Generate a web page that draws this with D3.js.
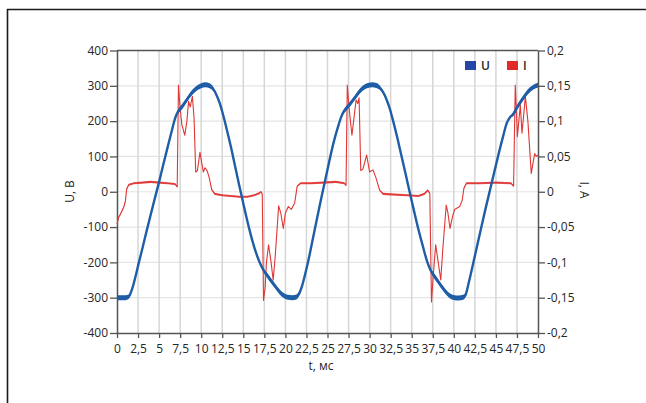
<!DOCTYPE html>
<html>
<head>
<meta charset="utf-8">
<script src="https://cdn.jsdelivr.net/npm/d3@7"></script>
<style>
  body { margin: 0; background: #fff; }
  svg { display: block; }
  text { font-family: "Open Sans", sans-serif; }
</style>
</head>
<body>
<svg id="chart" width="646" height="403"></svg>
<script>
// Tick values for the three axes
const timeTicks = [0, 2.5, 5, 7.5, 10, 12.5, 15, 17.5, 20, 22.5, 25, 27.5, 30, 32.5, 35, 37.5, 40, 42.5, 45, 47.5, 50];
const voltTicks = [-400, -300, -200, -100, 0, 100, 200, 300, 400];
const ampTicks = [-0.2, -0.15, -0.1, -0.05, 0, 0.05, 0.1, 0.15, 0.2];

// Voltage U, V: sample times (ms), values and noise half-width of the trace
const uTime = [0, 0.5, 1.0, 1.4, 1.8, 2.2, 2.6, 3.0, 3.5, 4.0, 4.5, 5.0, 5.5, 6.0, 6.5, 6.9, 7.2, 7.6, 8.0, 8.5, 9.0, 9.5, 10.0, 10.5, 11.0, 11.4, 11.8, 12.2, 12.6, 13.0, 13.5, 14.0, 14.5, 15.0, 15.5, 16.0, 16.5, 17.0, 17.4, 17.8, 18.3, 18.8, 19.3, 19.8, 20.3, 20.8, 21.3, 21.7, 22.0, 22.4, 22.8, 23.2, 23.7, 24.2, 24.7, 25.2, 25.7, 26.2, 26.6, 26.9, 27.3, 27.8, 28.3, 28.8, 29.3, 29.8, 30.3, 30.8, 31.2, 31.6, 32.0, 32.4, 32.8, 33.3, 33.8, 34.3, 34.8, 35.3, 35.8, 36.3, 36.8, 37.2, 37.6, 38.1, 38.6, 39.1, 39.6, 40.1, 40.6, 41.1, 41.4, 41.8, 42.3, 42.8, 43.3, 43.8, 44.3, 44.8, 45.3, 45.8, 46.3, 46.7, 47.0, 47.5, 48.0, 48.5, 49.0, 49.5, 50.0];
const uVolt = [-300, -300, -300, -297, -275, -240, -200, -162, -113, -65, -18, 28, 77, 125, 172, 208, 225, 237, 250, 268, 283, 294, 300, 303, 300, 292, 275, 251, 218, 180, 130, 75, 20, -33, -85, -132, -172, -203, -222, -236, -252, -268, -283, -294, -299, -300, -298, -285, -265, -228, -187, -140, -82, -25, 30, 85, 137, 180, 210, 226, 238, 252, 268, 284, 295, 301, 303, 301, 295, 282, 262, 235, 200, 152, 100, 48, -5, -57, -107, -152, -195, -220, -236, -253, -270, -285, -296, -300, -301, -299, -292, -255, -203, -150, -97, -45, 5, 55, 105, 152, 195, 212, 218, 238, 257, 274, 288, 297, 302];
const uNoise = [7, 7, 7, 6, 3, 1, 0, 0, 0, 0, 0, 0, 0, 0, 0, 1, 5, 7, 7, 7, 7, 7, 7, 7, 7, 6, 3, 1, 0, 0, 0, 0, 0, 0, 0, 0, 0, 1, 5, 7, 7, 7, 7, 7, 7, 7, 7, 6, 3, 1, 0, 0, 0, 0, 0, 0, 0, 0, 1, 5, 7, 7, 7, 7, 7, 7, 7, 7, 6, 3, 1, 0, 0, 0, 0, 0, 0, 0, 0, 0, 1, 5, 7, 7, 7, 7, 7, 7, 7, 7, 6, 3, 1, 0, 0, 0, 0, 0, 0, 0, 0, 1, 5, 7, 7, 7, 7, 7, 7];

// Current I, A: sample times (ms), values and noise half-width of the trace
const iTime = [0, 0.2, 0.4, 0.6, 0.8, 1.0, 1.15, 1.4, 2.0, 3.0, 4.0, 5.0, 6.0, 6.9, 7.15, 7.3, 7.45, 7.7, 8.05, 8.3, 8.5, 8.7, 8.95, 9.15, 9.35, 9.55, 9.85, 10.05, 10.25, 10.45, 10.7, 10.95, 11.25, 11.6, 12.5, 13.5, 14.5, 15.5, 16.3, 16.9, 17.1, 17.25, 17.4, 17.6, 17.75, 18.0, 18.3, 18.55, 18.8, 19.2, 19.45, 19.75, 20.0, 20.35, 20.7, 21.1, 21.4, 21.8, 23.0, 24.5, 26.0, 27.0, 27.2, 27.35, 27.55, 27.9, 28.15, 28.4, 28.6, 28.75, 28.95, 29.2, 29.65, 30.0, 30.4, 30.75, 31.2, 31.6, 33.0, 34.5, 35.8, 36.5, 36.9, 37.15, 37.35, 37.55, 37.85, 38.15, 38.45, 38.7, 39.1, 39.3, 39.55, 39.85, 40.1, 40.7, 41.0, 41.2, 41.5, 43.0, 45.0, 46.8, 47.1, 47.3, 47.45, 47.55, 47.9, 48.1, 48.5, 48.8, 49.2, 49.6, 49.8, 50.0];
const iAmp = [-0.046, -0.036, -0.032, -0.027, -0.022, -0.013, 0.004, 0.010, 0.012, 0.013, 0.014, 0.013, 0.012, 0.011, 0.007, 0.151, 0.125, 0.095, 0.080, 0.100, 0.128, 0.120, 0.135, 0.105, 0.028, 0.030, 0.056, 0.042, 0.028, 0.034, 0.030, 0.020, 0.003, -0.003, -0.005, -0.006, -0.007, -0.007, -0.005, -0.002, 0.000, -0.003, -0.154, -0.135, -0.100, -0.075, -0.100, -0.125, -0.090, -0.020, -0.030, -0.052, -0.030, -0.021, -0.025, -0.016, 0.008, 0.012, 0.012, 0.013, 0.014, 0.012, 0.009, 0.151, 0.120, 0.080, 0.105, 0.130, 0.125, 0.133, 0.030, 0.032, 0.052, 0.028, 0.031, 0.020, 0.002, -0.003, -0.004, -0.005, -0.006, -0.003, 0.002, -0.002, -0.156, -0.120, -0.075, -0.100, -0.125, -0.080, -0.019, -0.030, -0.052, -0.035, -0.025, -0.021, -0.012, 0.005, 0.012, 0.012, 0.013, 0.012, 0.008, 0.151, 0.110, 0.078, 0.123, 0.083, 0.135, 0.100, 0.026, 0.054, 0.050, 0.052];
const iNoise = [0.001, 0.001, 0.001, 0.001, 0.001, 0.001, 0.001, 0.0015, 0.0015, 0.0015, 0.0015, 0.0015, 0.0015, 0.0015, 0.001, 0, 0, 0, 0, 0, 0, 0, 0, 0, 0, 0, 0, 0, 0, 0, 0, 0, 0.001, 0.0015, 0.0015, 0.0015, 0.0015, 0.0015, 0.0015, 0.0015, 0.001, 0, 0, 0, 0, 0, 0, 0, 0, 0, 0, 0, 0, 0, 0, 0, 0.001, 0.0015, 0.0015, 0.0015, 0.0015, 0.0015, 0.001, 0, 0, 0, 0, 0, 0, 0, 0, 0, 0, 0, 0, 0, 0.001, 0.0015, 0.0015, 0.0015, 0.0015, 0.0015, 0.0015, 0.001, 0, 0, 0, 0, 0, 0, 0, 0, 0, 0, 0, 0, 0, 0.001, 0.0015, 0.0015, 0.0015, 0.0015, 0.001, 0, 0, 0, 0, 0, 0, 0, 0, 0, 0, 0];

const uData = uTime.map((t, k) => ({ t, v: uVolt[k], n: uNoise[k] }));
const iData = iTime.map((t, k) => ({ t, v: iAmp[k], n: iNoise[k] }));

const svg = d3.select("#chart");

// Outer frame (left and top rules)
svg.append("path")
  .attr("d", "M7.5,403 V9.5 H646")
  .attr("fill", "none")
  .attr("stroke", "#1a1a1a")
  .attr("stroke-width", 1.6);

const plotLeft = 117, plotRight = 538, plotTop = 50.5, plotBottom = 333;
const x = d3.scaleLinear().domain([0, 50]).range([plotLeft, plotRight]);
const yU = d3.scaleLinear().domain([-400, 400]).range([plotBottom, plotTop]);
const yI = d3.scaleLinear().domain([-0.2, 0.2]).range([plotBottom, plotTop]);

const loc = d3.formatLocale({ decimal: ",", thousands: " ", grouping: [3], currency: ["", ""], minus: "-" });
const fmtT = loc.format(".1~f");
const fmtU = loc.format("d");
const fmtI = loc.format(".2~f");

// Grid
const grid = svg.append("g");
grid.selectAll("line.h").data(voltTicks.slice(1, -1)).join("line")
  .attr("x1", plotLeft).attr("x2", plotRight)
  .attr("y1", d => yU(d)).attr("y2", d => yU(d))
  .attr("stroke", "#e4e4e4").attr("stroke-width", 1.2);
grid.selectAll("line.v").data(timeTicks.slice(1, -1)).join("line")
  .attr("x1", d => x(d)).attr("x2", d => x(d))
  .attr("y1", plotTop).attr("y2", plotBottom)
  .attr("stroke", "#d6d6d6").attr("stroke-width", 1.5);

// Top rule of the plot area
svg.append("line")
  .attr("x1", plotLeft).attr("x2", plotRight).attr("y1", plotTop).attr("y2", plotTop)
  .attr("stroke", "#555").attr("stroke-width", 1.5);

// Axes
function styleAxis(g) {
  g.select(".domain").attr("stroke", "#555").attr("stroke-width", 1.5);
  g.selectAll(".tick line").attr("stroke", "#555").attr("stroke-width", 1.3);
  g.selectAll(".tick text").attr("fill", "#262626").style("font-size", "12px")
    .style("font-family", "'Open Sans', sans-serif");
}
svg.append("g").attr("transform", `translate(0,${plotBottom})`)
  .call(d3.axisBottom(x).tickValues(timeTicks).tickFormat(fmtT).tickSize(5).tickPadding(6).tickSizeOuter(0))
  .call(styleAxis);
svg.append("g").attr("transform", `translate(${plotLeft},0)`)
  .call(d3.axisLeft(yU).tickValues(voltTicks).tickFormat(fmtU).tickSize(7).tickPadding(2).tickSizeOuter(0))
  .call(styleAxis);
svg.append("g").attr("transform", `translate(${plotRight},0)`)
  .call(d3.axisRight(yI).tickValues(ampTicks).tickFormat(fmtI).tickSize(7).tickPadding(2).tickSizeOuter(0))
  .call(styleAxis);

// Axis titles
svg.append("text").attr("transform", "translate(74,191.5) rotate(-90)")
  .attr("text-anchor", "middle").attr("fill", "#262626").style("font-size", "12px").text("U, В");
svg.append("text").attr("transform", "translate(580,190) rotate(90)")
  .attr("text-anchor", "middle").attr("fill", "#262626").style("font-size", "12px").text("I, A");
svg.append("text").attr("x", 321).attr("y", 370)
  .attr("text-anchor", "middle").attr("fill", "#262626").style("font-size", "12px").text("t, мс");

// Current trace
const iColor = "#e03636";
svg.append("path").datum(iData)
  .attr("d", d3.area().x(d => x(d.t)).y0(d => yI(d.v - d.n)).y1(d => yI(d.v + d.n)))
  .attr("fill", iColor).attr("opacity", 0.85);
svg.append("path").datum(iData)
  .attr("d", d3.line().x(d => x(d.t)).y(d => yI(d.v)))
  .attr("fill", "none").attr("stroke", iColor).attr("stroke-width", 1.1)
  .attr("stroke-linejoin", "round");

// Voltage trace
const uColor = "#1f5da6";
svg.append("path").datum(uData)
  .attr("d", d3.area().curve(d3.curveMonotoneX).x(d => x(d.t)).y0(d => yU(d.v - d.n)).y1(d => yU(d.v + d.n)))
  .attr("fill", uColor);
svg.append("path").datum(uData)
  .attr("d", d3.line().curve(d3.curveMonotoneX).x(d => x(d.t)).y(d => yU(d.v)))
  .attr("fill", "none").attr("stroke", uColor).attr("stroke-width", 2.4)
  .attr("stroke-linejoin", "round");

// Legend
const legend = [{ name: "U", color: "#2446a6", x: 465 }, { name: "I", color: "#e02a2a", x: 507 }];
const lg = svg.append("g");
lg.selectAll("rect").data(legend).join("rect")
  .attr("x", d => d.x).attr("y", 61).attr("width", 11).attr("height", 9)
  .attr("fill", d => d.color);
lg.selectAll("text").data(legend).join("text")
  .attr("x", d => d.x + 16).attr("y", 69.5)
  .attr("fill", "#262626").style("font-size", "12px").style("font-weight", "600")
  .text(d => d.name);
</script>
</body>
</html>
